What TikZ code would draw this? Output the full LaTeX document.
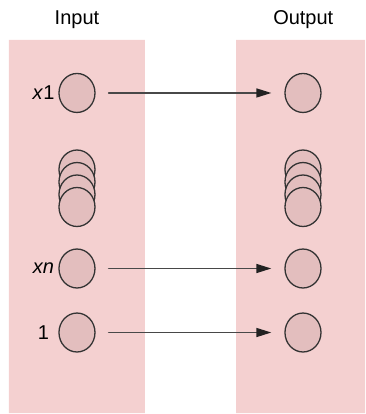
\documentclass[tikz,border=0pt]{standalone}
\usepackage{fontspec}
\setmainfont{Liberation Sans}
\usetikzlibrary{shapes.geometric,arrows.meta}
\definecolor{panelpink}{HTML}{F4D0D0}
\definecolor{unitfill}{HTML}{E3BEBE}
\definecolor{unitline}{HTML}{333333}
\definecolor{arrowgray}{HTML}{484848}
\definecolor{tipdark}{HTML}{222222}

\begin{document}
\begin{tikzpicture}[font=\fontsize{10}{12}\selectfont, line join=round, line cap=round, >={Triangle[length=7.5pt,width=4.5pt,color=tipdark]},
	unit/.style={ellipse, draw=unitline, fill=unitfill, line width=0.65pt, minimum width=0.633cm, minimum height=0.685cm, inner sep=0pt}]
	\useasboundingbox (0,0) rectangle (6.415,7.276);
	\fill[panelpink] (0.158,0.015) rectangle (2.548,6.573) (4.148,0.015) rectangle (6.415,6.573);
	\node[anchor=base] (inlabel) at (1.353,6.837) {Input};
	\node[anchor=base] (outlabel) at (5.33,6.837) {Output};
	% stacked units, top one first
	\foreach \side/\x in {in/1.353, out/5.325} {
		\foreach \k/\y in {1/4.297, 2/4.077, 3/3.858, 4/3.638}
			\node[unit] (\side-stack\k) at (\x,\y) {};
	}
	\foreach \name/\y/\txt in {x1/5.642/\textit{x}1, xn/2.557/\textit{xn}, one/1.432/1} {
		\node[unit] (in-\name) at (1.353,\y) {};
		\node[unit] (out-\name) at (5.325,\y) {};
		\node (lab-\name) at (0.765,\y) {\txt};
		\draw[->, arrowgray, line width=0.75pt, shorten <=6.5pt, shorten >=6.5pt] (in-\name) -- (out-\name);
	}
\end{tikzpicture}
\end{document}
